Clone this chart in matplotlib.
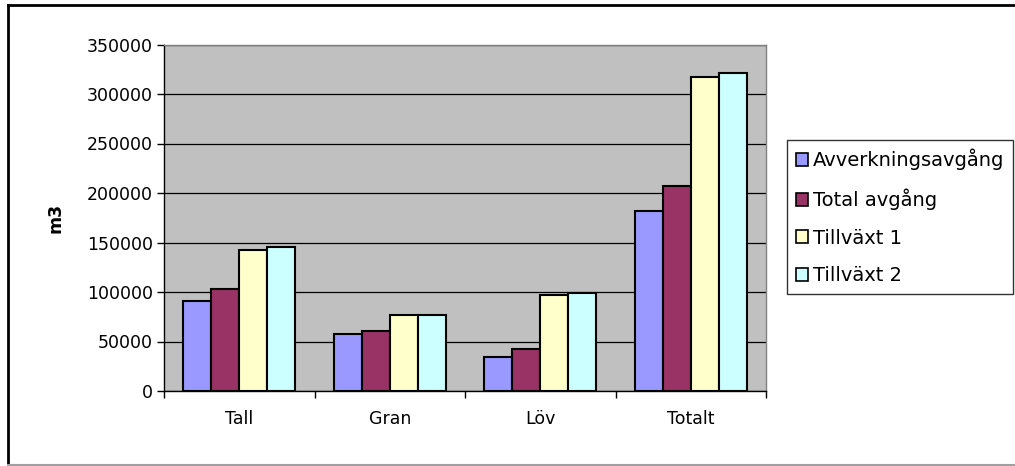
import numpy as np
import matplotlib.pyplot as plt
from matplotlib.lines import Line2D

plt.rcParams['font.family'] = ['DejaVu Sans']

categories = ['Tall', 'Gran', 'Löv', 'Totalt']
series_names = ['Avverkningsavgång', 'Total avgång', 'Tillväxt 1', 'Tillväxt 2']
avverkning = [91200, 57200, 34700, 182100]
total_avgang = [103300, 60900, 42700, 206700]
tillvaxt_1 = [142100, 77100, 97300, 317500]
tillvaxt_2 = [145800, 77100, 99300, 321500]
y_ticks = [0, 50000, 100000, 150000, 200000, 250000, 300000, 350000]

colors = ['#9999FF', '#993366', '#FFFFCC', '#CCFFFF']
series = [avverkning, total_avgang, tillvaxt_1, tillvaxt_2]

W, H = 1015, 466
fig = plt.figure(figsize=(W / 100, H / 100), dpi=100)
# plot area in pixel coordinates: x 164..766, y 44.5..391
ax = fig.add_axes([164 / W, 1 - 391 / H, (766 - 164) / W, (391 - 44.5) / H])
ax.set_facecolor('#C0C0C0')

x = np.arange(len(categories))
bar_w = 0.186
for i, (vals, col, name) in enumerate(zip(series, colors, series_names)):
    ax.bar(x + (i - 1.5) * bar_w, vals, bar_w, color=col, edgecolor='black',
           linewidth=1.5, label=name, zorder=3)

ax.set_xlim(-0.5, len(categories) - 0.5)
ax.set_ylim(0, 350000)
ax.set_yticks(y_ticks)
ax.set_yticklabels([str(v) for v in y_ticks], fontsize=12.5)
ax.yaxis.grid(True, color='black', linewidth=0.9, zorder=1)
ax.set_axisbelow(True)

ax.set_xticks(x)
ax.set_xticklabels(categories, fontsize=12.5)
ax.set_xticks(np.arange(len(categories) + 1) - 0.5, minor=True)
ax.tick_params(axis='x', which='major', length=0, pad=14)
ax.tick_params(axis='x', which='minor', length=5, width=1, color='black', direction='out')
ax.tick_params(axis='y', length=5, width=1, color='black', direction='out', pad=3)

for side in ['top', 'right']:
    ax.spines[side].set_color('#808080')
    ax.spines[side].set_linewidth(1)
for side in ['left', 'bottom']:
    ax.spines[side].set_color('black')
    ax.spines[side].set_linewidth(1)

ax.set_ylabel('m3', fontsize=12.5, fontweight='bold', labelpad=16)

leg = fig.legend(loc='upper left', bbox_to_anchor=(787 / W, 1 - 140 / H),
                 frameon=True, fancybox=False, edgecolor='black', fontsize=14,
                 handlelength=0.65, handleheight=0.65, handletextpad=0.25,
                 labelspacing=0.95, borderpad=0.45, borderaxespad=0)
leg.get_frame().set_linewidth(1)
for patch in leg.get_patches():
    patch.set_linewidth(1.2)

# outer chart frame
fig.add_artist(Line2D([8 / W, 8 / W], [1 - 4.5 / H, 1 - 464.5 / H], color='black', linewidth=2,
                      transform=fig.transFigure))
fig.add_artist(Line2D([8 / W, 1], [1 - 4.5 / H, 1 - 4.5 / H], color='black', linewidth=2,
                      transform=fig.transFigure))
fig.add_artist(Line2D([8 / W, 1], [1 - 465 / H, 1 - 465 / H], color='#A0A0A0', linewidth=1.5,
                      transform=fig.transFigure))

fig.savefig('out.png', dpi=100)
